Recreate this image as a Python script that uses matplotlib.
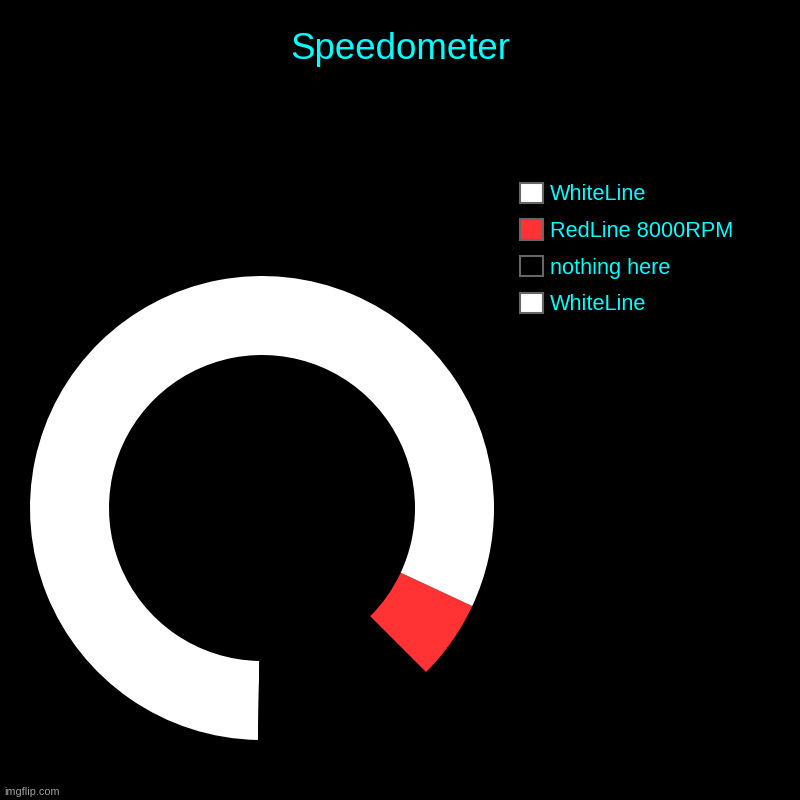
import matplotlib
import matplotlib.pyplot as plt

matplotlib.use("Agg")

labels = ["WhiteLine", "nothing here", "RedLine 8000RPM", "WhiteLine"]
values = [269, 46, 20, 25]
colors = ["#ffffff", "#000000", "#ff3333", "#ffffff"]

plt.rcParams["font.family"] = ["Liberation Sans", "DejaVu Sans"]

fig = plt.figure(figsize=(8, 8), dpi=100, facecolor="black")

# donut: centre (262, 508) px, outer radius 232 px, inner 153 px
cx, cy, r = 262 / 800, 1 - 508 / 800, 232 / 800
ax = fig.add_axes([cx - r, cy - r, 2 * r, 2 * r])
ax.set_facecolor("black")
wedges, _ = ax.pie(
    values,
    colors=colors,
    startangle=0,
    counterclock=True,
    radius=1,
    wedgeprops=dict(width=1 - 153 / 232, linewidth=0),
)
ax.set_xlim(-1, 1)
ax.set_ylim(-1, 1)
ax.set_aspect("equal")
ax.axis("off")

fig.text(0.5, 1 - 59 / 800, "Speedometer", color="cyan", fontsize=26.5,
         ha="center", va="baseline")

handles = [plt.Rectangle((0, 0), 1, 1, facecolor=c, edgecolor="#666666", linewidth=1.5)
           for c in colors]
leg = fig.legend(handles[::-1], labels[::-1], loc="upper left",
                 bbox_to_anchor=(511 / 800, 1 - 174 / 800), frameon=False,
                 fontsize=15.7, labelcolor="cyan", handlelength=1.05, handleheight=1.05,
                 handletextpad=0.35, labelspacing=0.65, borderaxespad=0)

fig.text(4 / 800, 1 - 795 / 800, "imgflip.com", color="#a0a0a0", fontsize=7.8,
         ha="left", va="baseline")

fig.savefig("out.png", dpi=100, facecolor="black")
